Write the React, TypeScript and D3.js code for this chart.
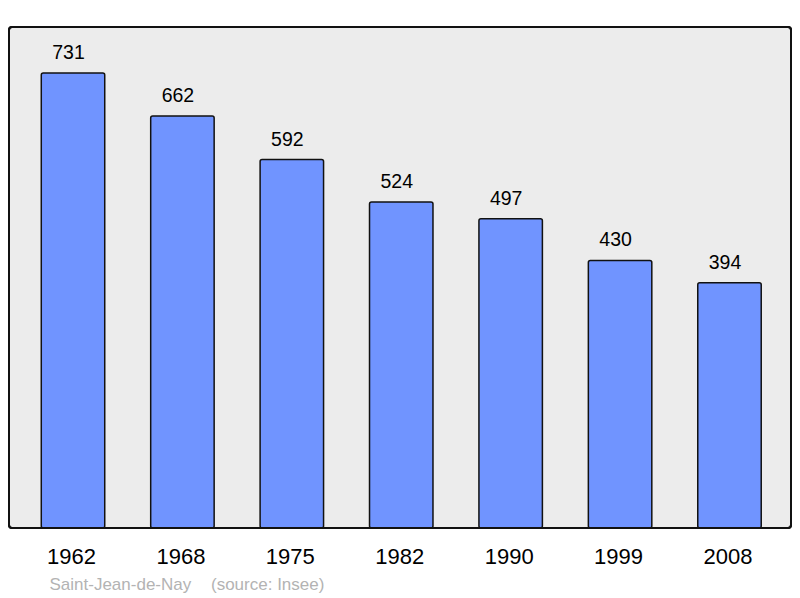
import React from "react";
import * as d3 from "d3";

const years = ["1962", "1968", "1975", "1982", "1990", "1999", "2008"];
const population = [731, 662, 592, 524, 497, 430, 394];
const footerName = "Saint-Jean-de-Nay";
const footerSource = "(source: Insee)";

export default function App() {
  const W = 800, H = 598;
  const frame = { x0: 9, y0: 27, x1: 791, y1: 528 };
  const x = d3.scaleBand<string>().domain(years).range([18.3, 784.2]).paddingInner(0.42).paddingOuter(0.21);
  const y = d3.scaleLinear().domain([0, 805]).range([frame.y1, frame.y0]);
  const font = "'Liberation Sans', Arial, sans-serif";
  return (
    <svg width={W} height={H} style={{ position: "absolute", left: 0, top: 0 }}>
      <rect x={frame.x0} y={frame.y0} width={frame.x1 - frame.x0} height={frame.y1 - frame.y0}
        rx={3} fill="#ececec" stroke="#111" strokeWidth={2} />
      {population.map((v, i) => {
        const bx = x(years[i])!;
        const by = y(v);
        return (
          <g key={years[i]}>
            <rect x={bx} y={by} width={x.bandwidth()} height={frame.y1 - by} rx={2}
              fill="#7094ff" stroke="#111" strokeWidth={1.5} />
            <text x={bx + x.bandwidth() / 2 - 4.5} y={by - 14} textAnchor="middle" fontFamily={font}
              fontSize={19.5} fill="#000">{v}</text>
          </g>
        );
      })}
      <rect x={frame.x0} y={frame.y0} width={frame.x1 - frame.x0} height={frame.y1 - frame.y0}
        rx={3} fill="none" stroke="#111" strokeWidth={2} />
      {years.map((yr) => (
        <text key={yr} x={x(yr)! + x.bandwidth() / 2 - 1.5} y={564} textAnchor="middle" fontFamily={font}
          fontSize={22} fill="#000">{yr}</text>
      ))}
      <text x={49.5} y={589.5} fontFamily={font} fontSize={17} fill="#b3b3b3">{footerName}</text>
      <text x={211} y={589.5} fontFamily={font} fontSize={17} fill="#b3b3b3">{footerSource}</text>
    </svg>
  );
}
